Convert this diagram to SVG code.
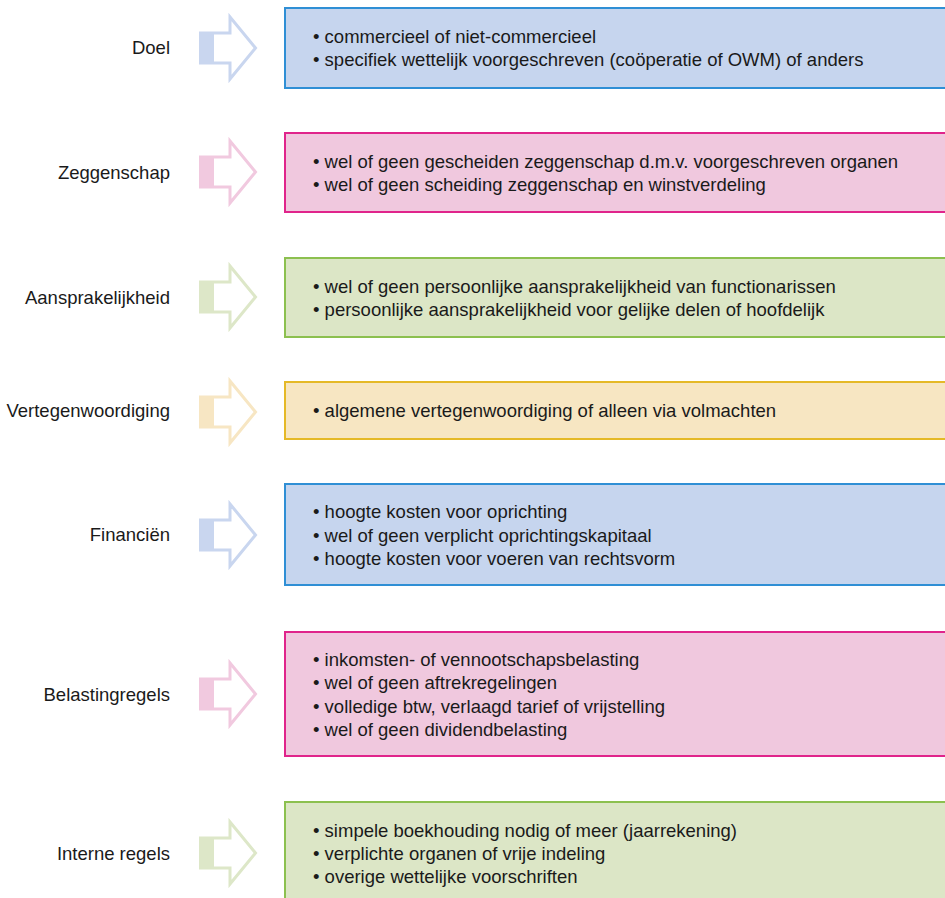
<svg xmlns="http://www.w3.org/2000/svg" width="945" height="898" viewBox="0 0 945 898">
<style>
text{font-family:"Liberation Sans",Arial,sans-serif;font-size:18.5px;fill:#1a1a1a}
.lbl{text-anchor:end}
.box{stroke-width:2}
.blue .box{fill:#c6d5ee;stroke:#2f8fd5}
.pink .box{fill:#f0c8de;stroke:#e0248b}
.green .box{fill:#dce6c6;stroke:#8cc04f}
.yellow .box{fill:#f7e6c2;stroke:#e5b927}
.arr{fill:#fff;stroke-width:3;stroke-linejoin:miter}
.arr.blue{stroke:#c9d6ef}.sq.blue{fill:#c9d6ef}
.arr.pink{stroke:#f1c9df}.sq.pink{fill:#f1c9df}
.arr.green{stroke:#dde7c8}.sq.green{fill:#dde7c8}
.arr.yellow{stroke:#f7e6c3}.sq.yellow{fill:#f7e6c3}
</style>
<defs>
<path id="ap" d="M200.5,-15 H230 V-31 L255.5,0 L230,31 V15 H200.5 Z"/>
</defs>
<g id="connectors">
<g transform="translate(0,48)"><use href="#ap" class="arr blue"/><rect class="sq blue" x="199" y="-16" width="15" height="32"/></g>
<g transform="translate(0,172)"><use href="#ap" class="arr pink"/><rect class="sq pink" x="199" y="-16" width="15" height="32"/></g>
<g transform="translate(0,297)"><use href="#ap" class="arr green"/><rect class="sq green" x="199" y="-16" width="15" height="32"/></g>
<g transform="translate(0,412)"><use href="#ap" class="arr yellow"/><rect class="sq yellow" x="199" y="-16" width="15" height="32"/></g>
<g transform="translate(0,535)"><use href="#ap" class="arr blue"/><rect class="sq blue" x="199" y="-16" width="15" height="32"/></g>
<g transform="translate(0,694)"><use href="#ap" class="arr pink"/><rect class="sq pink" x="199" y="-16" width="15" height="32"/></g>
<g transform="translate(0,853)"><use href="#ap" class="arr green"/><rect class="sq green" x="199" y="-16" width="15" height="32"/></g>
</g>
<g id="doel" class="blue">
<text class="lbl" x="170" y="54">Doel</text>
<rect class="box" x="285" y="8" width="700" height="80"/>
<text x="313" y="43">• commercieel of niet-commercieel</text>
<text x="313" y="66">• specifiek wettelijk voorgeschreven (coöperatie of OWM) of anders</text>
</g>
<g id="zeggenschap" class="pink">
<text class="lbl" x="170" y="179">Zeggenschap</text>
<rect class="box" x="285" y="133" width="700" height="79"/>
<text x="313" y="168">• wel of geen gescheiden zeggenschap d.m.v. voorgeschreven organen</text>
<text x="313" y="191">• wel of geen scheiding zeggenschap en winstverdeling</text>
</g>
<g id="aansprakelijkheid" class="green">
<text class="lbl" x="170" y="304">Aansprakelijkheid</text>
<rect class="box" x="285" y="258" width="700" height="79"/>
<text x="313" y="293">• wel of geen persoonlijke aansprakelijkheid van functionarissen</text>
<text x="313" y="316">• persoonlijke aansprakelijkheid voor gelijke delen of hoofdelijk</text>
</g>
<g id="vertegenwoordiging" class="yellow">
<text class="lbl" x="170" y="417">Vertegenwoordiging</text>
<rect class="box" x="285" y="382" width="700" height="57"/>
<text x="313" y="417">• algemene vertegenwoordiging of alleen via volmachten</text>
</g>
<g id="financien" class="blue">
<text class="lbl" x="170" y="541">Financiën</text>
<rect class="box" x="285" y="484" width="700" height="101"/>
<text x="313" y="518">• hoogte kosten voor oprichting</text>
<text x="313" y="542">• wel of geen verplicht oprichtingskapitaal</text>
<text x="313" y="565">• hoogte kosten voor voeren van rechtsvorm</text>
</g>
<g id="belastingregels" class="pink">
<text class="lbl" x="170" y="701">Belastingregels</text>
<rect class="box" x="285" y="632" width="700" height="124"/>
<text x="313" y="666">• inkomsten- of vennootschapsbelasting</text>
<text x="313" y="689">• wel of geen aftrekregelingen</text>
<text x="313" y="713">• volledige btw, verlaagd tarief of vrijstelling</text>
<text x="313" y="736">• wel of geen dividendbelasting</text>
</g>
<g id="interne-regels" class="green">
<text class="lbl" x="170" y="860">Interne regels</text>
<rect class="box" x="285" y="802" width="700" height="103"/>
<text x="313" y="837">• simpele boekhouding nodig of meer (jaarrekening)</text>
<text x="313" y="860">• verplichte organen of vrije indeling</text>
<text x="313" y="883">• overige wettelijke voorschriften</text>
</g>
</svg>
